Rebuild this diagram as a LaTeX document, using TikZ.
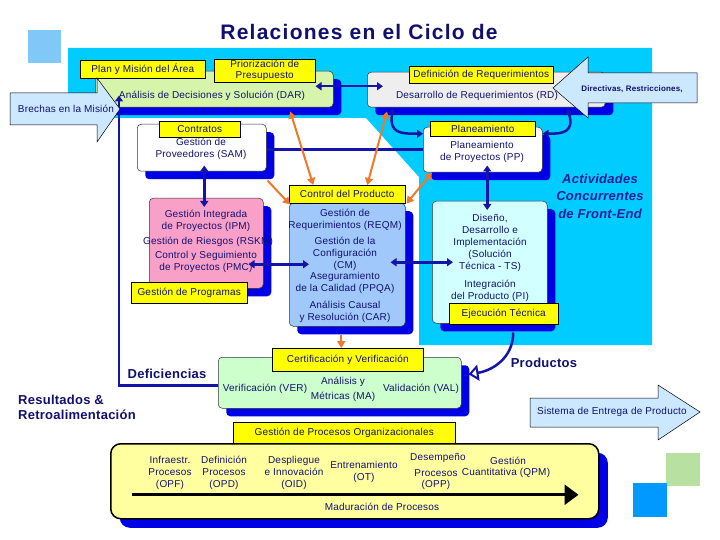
\documentclass[tikz,border=0pt]{standalone}
\usepackage{fontspec}
\setmainfont{Liberation Sans}
\newfontfamily\bodyf[LetterSpace=2]{Liberation Sans}
\newfontfamily\titlef[LetterSpace=6]{Liberation Sans}
\usetikzlibrary{shadows,arrows.meta,calc}
\definecolor{cyanbg}{RGB}{0,204,255}
\definecolor{sqA}{RGB}{128,200,248}
\definecolor{sqG}{RGB}{184,224,160}
\definecolor{sqB}{RGB}{0,153,255}
\definecolor{shblue}{RGB}{0,0,230}
\definecolor{lineB}{RGB}{20,20,170}
\definecolor{navy}{RGB}{16,16,112}
\definecolor{ylw}{RGB}{255,255,0}
\definecolor{darG}{RGB}{214,245,170}
\definecolor{rdG}{RGB}{238,238,238}
\definecolor{pinkC}{RGB}{249,160,200}
\definecolor{ctrlB}{RGB}{160,200,250}
\definecolor{tsC}{RGB}{210,255,255}
\definecolor{verG}{RGB}{204,255,204}
\definecolor{opfY}{RGB}{255,255,160}
\definecolor{arrB}{RGB}{204,232,255}
\definecolor{orng}{RGB}{240,120,40}
\definecolor{actB}{RGB}{30,30,150}
\newcommand\txtf{\bodyf\fontsize{10}{12}\selectfont}
\newcommand\boldf{\bodyf\bfseries\fontsize{13}{15}\selectfont}
\begin{document}
\begin{tikzpicture}[x=1pt,y=-1pt,
  box/.style={draw=black!80, line width=0.5pt, rounded corners=4pt, inner sep=0pt, anchor=north west,
    general shadow={fill=shblue, shadow xshift=8pt, shadow yshift=-8pt}},
  bigbox/.style={draw=black, line width=1.5pt, rounded corners=10pt, inner sep=0pt, anchor=north west,
    general shadow={fill=shblue, shadow xshift=9pt, shadow yshift=-9pt}},
  lab/.style={draw=black, line width=0.5pt, fill=ylw, inner sep=0pt, anchor=north west, font=\txtf, text=navy, align=center},
  tx/.style={font=\txtf, text=navy, align=center, inner sep=0pt},
  boldtx/.style={font=\boldf, text=navy, inner sep=0pt},
  conn/.style={draw=lineB, line width=2.5pt, {Triangle[length=6pt,width=8pt]}-{Triangle[length=6pt,width=8pt]}},
  plainln/.style={draw=lineB, line width=2.5pt},
  oconn/.style={draw=orng, line width=2pt, {Triangle[length=7pt,width=8pt]}-{Triangle[length=7pt,width=8pt]}},
  oarr/.style={draw=orng, line width=2pt, -{Triangle[length=7pt,width=8pt]}},
  bigarrow/.style={fill=arrB, draw=black, line width=0.5pt}
]
\useasboundingbox (0,0) rectangle (720,540);
\fill[white] (0,0) rectangle (720,540);
% background
\fill[cyanbg] (68,48) -- (652,48) -- (652,345) -- (419,345) -- (419,177) -- (366,118) -- (68,118) -- cycle;
\fill[sqA] (28,30) rectangle (61,63);
\fill[sqG] (666,453) rectangle (700,486);
\fill[sqB] (633,483) rectangle (667,517);
% title
\node[inner sep=0pt, text=navy, font=\titlef\bfseries\fontsize{21}{25}\selectfont] (title) at (359,32) {Relaciones en el Ciclo de};
% boxes
\node[box, fill=darG, minimum width=238pt, minimum height=36pt] (dar) at (95,71) {};
\node[box, fill=rdG, minimum width=238pt, minimum height=35pt] (rd) at (367,72) {};
\node[box, fill=white, minimum width=129pt, minimum height=47pt] (sam) at (137,124) {};
\node[box, fill=white, minimum width=119pt, minimum height=45pt] (pp) at (423,127) {};
\node[box, fill=pinkC, minimum width=114pt, minimum height=90pt] (ipm) at (149,198) {};
\node[box, fill=ctrlB, minimum width=116pt, minimum height=123pt] (ctrl) at (289,203) {};
\node[box, fill=tsC, minimum width=115pt, minimum height=122pt] (ts) at (432,201) {};
\node[box, fill=verG, minimum width=243pt, minimum height=51pt] (ver) at (218,357) {};
\node[bigbox, fill=opfY, minimum width=488pt, minimum height=75pt] (opf) at (110,443) {};
% labels
\node[lab, minimum width=125pt, minimum height=18pt] (lplan) at (80,60) {Plan y Misión del Área};
\node[lab, minimum width=101pt, minimum height=23pt, font=\bodyf\fontsize{10}{11}\selectfont] (lprio) at (214,59) {Priorización de\\Presupuesto};
\node[lab, minimum width=144pt, minimum height=17pt] (ldef) at (409,66) {Definición de Requerimientos};
\node[lab, minimum width=81pt, minimum height=16pt] (lcon) at (159,121) {Contratos};
\node[lab, minimum width=105pt, minimum height=15pt] (lplan2) at (430,121) {Planeamiento};
\node[lab, minimum width=116pt, minimum height=18pt] (lctrl) at (289,185) {Control del Producto};
\node[lab, minimum width=116pt, minimum height=21pt] (lprog) at (131,282) {Gestión de Programas};
\node[lab, minimum width=109pt, minimum height=21pt] (lejec) at (449,303) {Ejecución Técnica};
\node[lab, minimum width=151pt, minimum height=23pt] (lcert) at (272,348) {Certificación y Verificación};
\node[lab, minimum width=222pt, minimum height=21pt] (lgpo) at (233,422) {Gestión de Procesos Organizacionales};
% box texts
\node[tx] (tdar) at (212,96) {Análisis de Decisiones y Solución (DAR)};
\node[tx] (trd) at (477,96) {Desarrollo de Requerimientos (RD)};
\node[tx] (tsam) at (201,149) {Gestión de\\Proveedores (SAM)};
\node[tx] (tpp) at (482,151.5) {Planeamiento\\de Proyectos (PP)};
\node[tx] (tipm1) at (206,221) {Gestión Integrada\\de Proyectos (IPM)};
\node[tx] (tipm2) at (208,242) {Gestión de Riesgos (RSKM)};
\node[tx] (tipm3) at (206,261.5) {Control y Seguimiento\\de Proyectos (PMC)};
\node[tx] (tc1) at (345,219.5) {Gestión de\\Requerimientos (REQM)};
\node[tx] (tc2) at (345,253.5) {Gestión de la\\Configuración\\(CM)};
\node[tx] (tc3) at (345,283) {Aseguramiento\\de la Calidad (PPQA)};
\node[tx] (tc4) at (345,311.5) {Análisis Causal\\y Resolución (CAR)};
\node[tx] (tts1) at (490,243) {Diseño,\\Desarrollo e\\Implementación\\(Solución\\Técnica - TS)};
\node[tx] (tts2) at (490,291) {Integración\\del Producto (PI)};
\node[tx] (tv1) at (265,389) {Verificación (VER)};
\node[tx] (tv2) at (343,389.5) {Análisis y\\[3pt]Métricas (MA)};
\node[tx] (tv3) at (421,389) {Validación (VAL)};
\node[tx] (to1) at (170,473) {Infraestr.\\Procesos\\(OPF)};
\node[tx] (to2) at (224,473) {Definición\\Procesos\\(OPD)};
\node[tx] (to3) at (294,473) {Despliegue\\e Innovación\\(OID)};
\node[tx] (to4) at (364,472) {Entrenamiento\\(OT)};
\node[tx] (to5a) at (438,458) {Desempeño};
\node[tx] (to5b) at (436,473) {Procesos};
\node[tx] (to5c) at (436,485) {(OPP)};
\node[tx] (to6a) at (508,461) {Gestión};
\node[tx] (to6b) at (506,473) {Cuantitativa (QPM)};
\node[tx] (tmad) at (382,507) {Maduración de Procesos};
% free texts
\node[boldtx] (tdef) at (167,374) {Deficiencias};
\node[boldtx, anchor=west, align=left] (tres) at (18,407.5) {Resultados \&\\Retroalimentación};
\node[boldtx] (tprod) at (544,363) {Productos};
\node[inner sep=0pt, text=actB, align=center, font=\bodyf\bfseries\itshape\fontsize{13}{17.5}\selectfont] (tact) at (600,196) {Actividades\\Concurrentes\\de Front-End};
% connectors
\draw[conn] ($(dar.east)+(-18,-3)$) -- ($(rd.west)+(16,-3.5)$);
\draw[conn] ($(rd.south west)+(26,1)$) .. controls ($(rd.south west)+(22,26)$) and ($(pp.west)+(-22,-16)$) .. ($(pp.west)+(0,-16)$);
\draw[conn] ($(rd.south east)+(-38,1)$) .. controls ($(rd.south east)+(-31,25)$) and ($(pp.east)+(20,-16)$) .. ($(pp.east)+(0,-16)$);
\draw[plainln] (sam.east |- pp.west) -- (pp.west);
\draw[conn] ($(sam.south)+(2.5,-6)$) -- ($(ipm.north)+(-2,9)$);
\draw[conn] ($(ipm.east)+(-15,21)$) -- ($(ctrl.west)+(20,-0.5)$);
\draw[conn] ($(ctrl.east)+(-15,-2.5)$) -- ($(ts.west)+(21,0)$);
\draw[conn] ($(pp.south)+(4.5,-7)$) -- ($(ts.north)+(-2.5,9)$);
\draw[plainln, -{Triangle[length=6pt,width=8pt]}] ($(ver.west)+(0,2.5)$) -| ($(dar.south west)+(24,-12)$);
\draw[oconn] ($(dar.south)+(76,4)$) -- ($(lctrl.north)+(-34,0)$);
\draw[oconn] ($(rd.south west)+(20,4)$) -- ($(lctrl.north)+(20,0)$);
\draw[oarr] ($(sam.south east)+(1,9)$) -- ($(lctrl.south west)+(1,1)$);
\draw[oconn] ($(pp.south west)+(9,0)$) -- ($(lctrl.south east)+(1,0)$);
\draw[oarr] ($(ctrl.south)+(-6,8)$) -- ($(lcert.north)+(-6.5,0)$);
\draw[draw=lineB, line width=2.5pt, -{Triangle[length=10pt,width=16pt,fill=white,line width=2pt]}] ($(ts.south)+(23.5,9)$) .. controls ($(ts.south)+(23.5,35)$) and ($(ver.east)+(30,-12)$) .. ($(ver.east)+(7,-8.5)$);
\draw[draw=black, line width=3pt, -{Triangle[length=14pt,width=20pt]}] ($(opf.west)+(22,13.5)$) -- ($(opf.east)+(-21,13.5)$);
% big arrows
\filldraw[bigarrow] (10,93) -- (97,93) -- (97,78) -- (120,109) -- (97,142) -- (97,125) -- (10,125) -- cycle;
\node[tx] (tbre) at (66,109) {Brechas en la Misión};
\filldraw[bigarrow] (697,73) -- (588,73) -- (588,57) -- (553,88) -- (588,118) -- (588,103) -- (697,103) -- cycle;
\node[inner sep=0pt, text=navy, font=\bodyf\bfseries\fontsize{8}{9}\selectfont] (tdir) at (632,89) {Directivas, Restricciones,};
\filldraw[bigarrow] (530,398) -- (658,398) -- (658,385) -- (700,412) -- (658,440) -- (658,427) -- (530,427) -- cycle;
\node[tx] (tsis) at (612,412) {Sistema de Entrega de Producto};
\end{tikzpicture}
\end{document}
